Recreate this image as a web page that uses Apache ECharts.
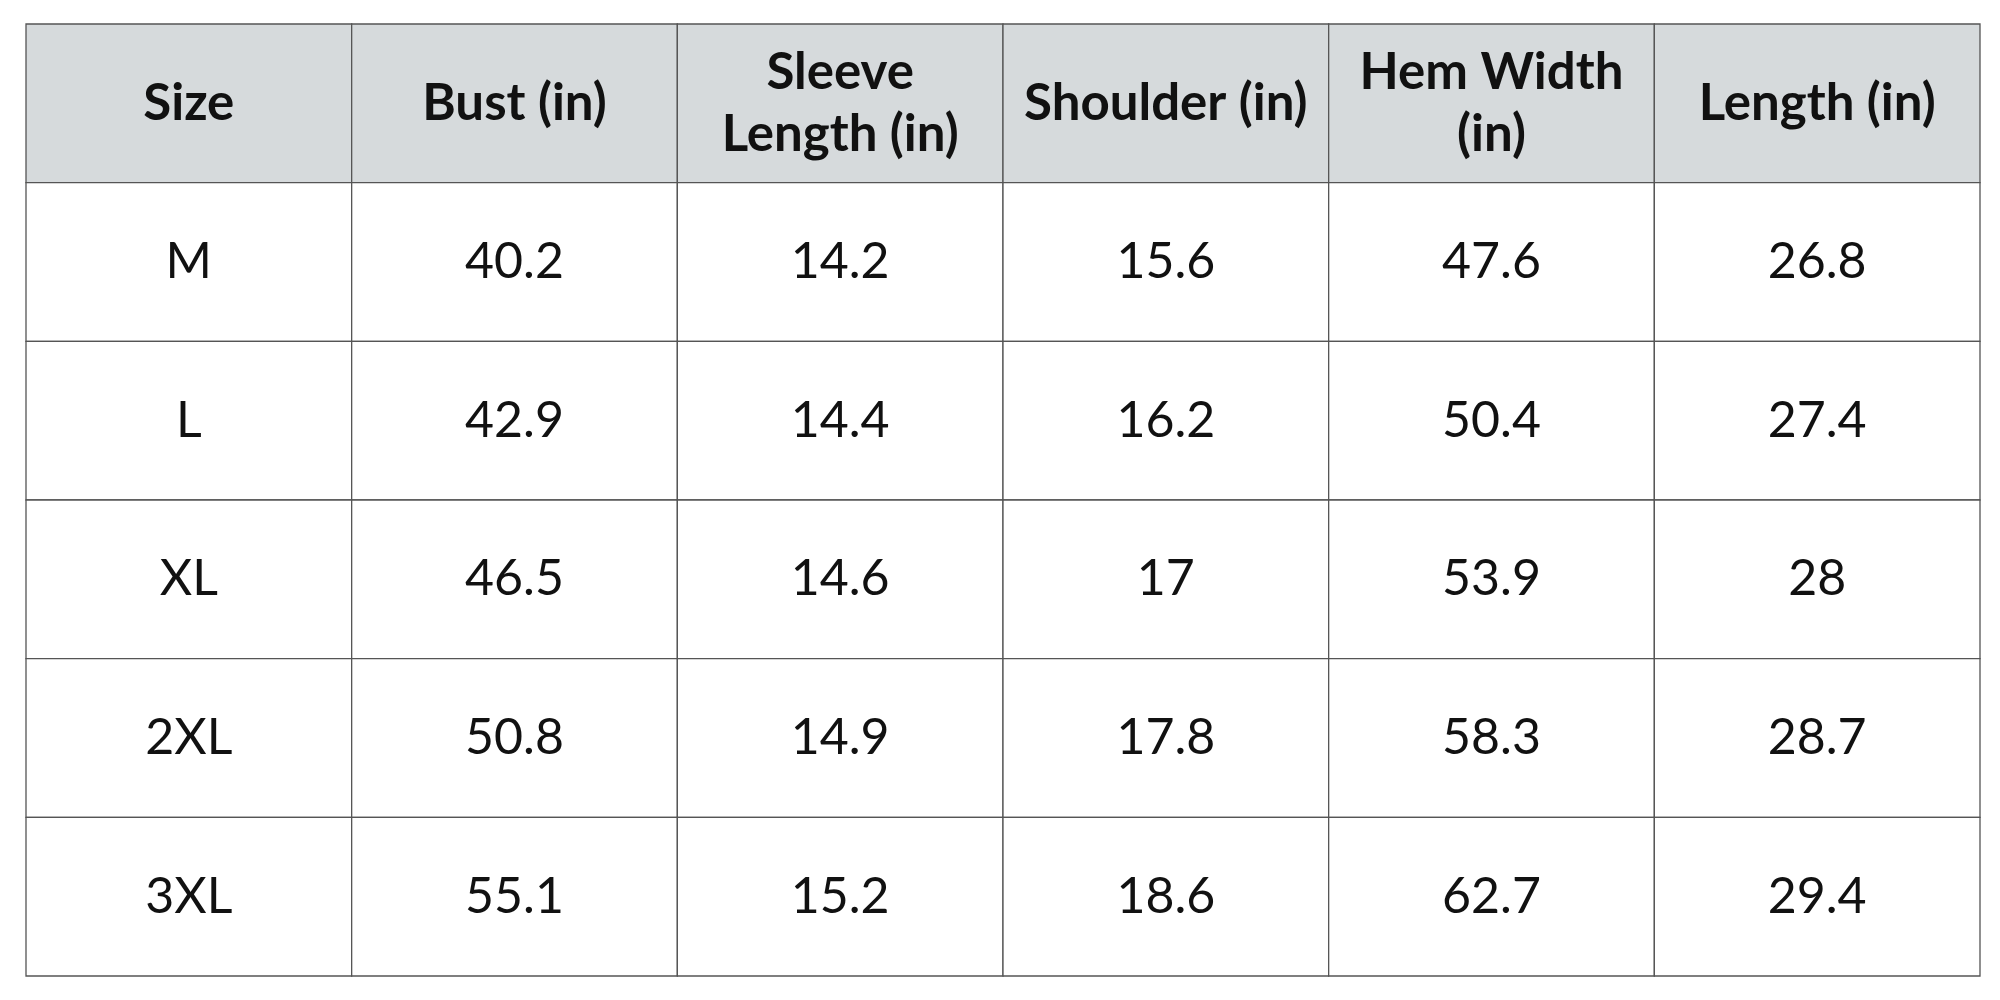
<!DOCTYPE html>
<html>
<head>
<meta charset="utf-8">
<script src="https://cdn.jsdelivr.net/npm/echarts@6/dist/echarts.min.js"></script>
<style>html,body{margin:0;padding:0;background:#fff}#main{width:2000px;height:1000px}</style>
</head>
<body>
<div id="main"></div>
<script>
let headers = ['Size', 'Bust (in)', 'Sleeve\nLength (in)', 'Shoulder (in)', 'Hem Width\n(in)', 'Length (in)'];
let sizes = ['M', 'L', 'XL', '2XL', '3XL'];
let bust = ['40.2', '42.9', '46.5', '50.8', '55.1'];
let sleeve = ['14.2', '14.4', '14.6', '14.9', '15.2'];
let shoulder = ['15.6', '16.2', '17', '17.8', '18.6'];
let hem = ['47.6', '50.4', '53.9', '58.3', '62.7'];
let lengthIn = ['26.8', '27.4', '28', '28.7', '29.4'];

let columns = [sizes, bust, sleeve, shoulder, hem, lengthIn];

// cells: [col, row, text, isHeader]
let cells = [];
headers.forEach(function (h, c) { cells.push([c, 0, h, 1]); });
columns.forEach(function (col, c) {
    col.forEach(function (v, r) { cells.push([c, r + 1, v, 0]); });
});

let myChart = echarts.init(document.getElementById('main'));

function renderCell(params, api) {
    let c = api.value(0), r = api.value(1);
    let p0 = api.coord([c, r]);
    let p1 = api.coord([c + 1, r + 1]);
    let d = cells[params.dataIndex];
    let head = d[3] === 1;
    return {
        type: 'group',
        children: [{
            type: 'rect',
            shape: {x: p0[0], y: p0[1], width: p1[0] - p0[0], height: p1[1] - p0[1]},
            style: {fill: head ? '#d6dadc' : '#ffffff', stroke: '#555', lineWidth: 1.3}
        }, {
            type: 'text',
            style: {
                x: (p0[0] + p1[0]) / 2,
                y: (p0[1] + p1[1]) / 2,
                text: d[2],
                align: 'center',
                verticalAlign: 'middle',
                fontFamily: 'Lato, "Open Sans", sans-serif',
                fontSize: head ? 51 : 50,
                fontWeight: head ? 'bold' : 'normal',
                lineHeight: 62,
                fill: '#111'
            }
        }]
    };
}

let option = {
    animation: false,
    grid: {left: 26, right: 20, top: 24, bottom: 24},
    xAxis: {type: 'value', min: 0, max: 6, show: false},
    yAxis: {type: 'value', min: 0, max: 6, inverse: true, show: false},
    series: [{
        type: 'custom',
        renderItem: renderCell,
        data: cells.map(function (d) { return [d[0], d[1]]; })
    }]
};
myChart.setOption(option);
</script>
</body>
</html>
